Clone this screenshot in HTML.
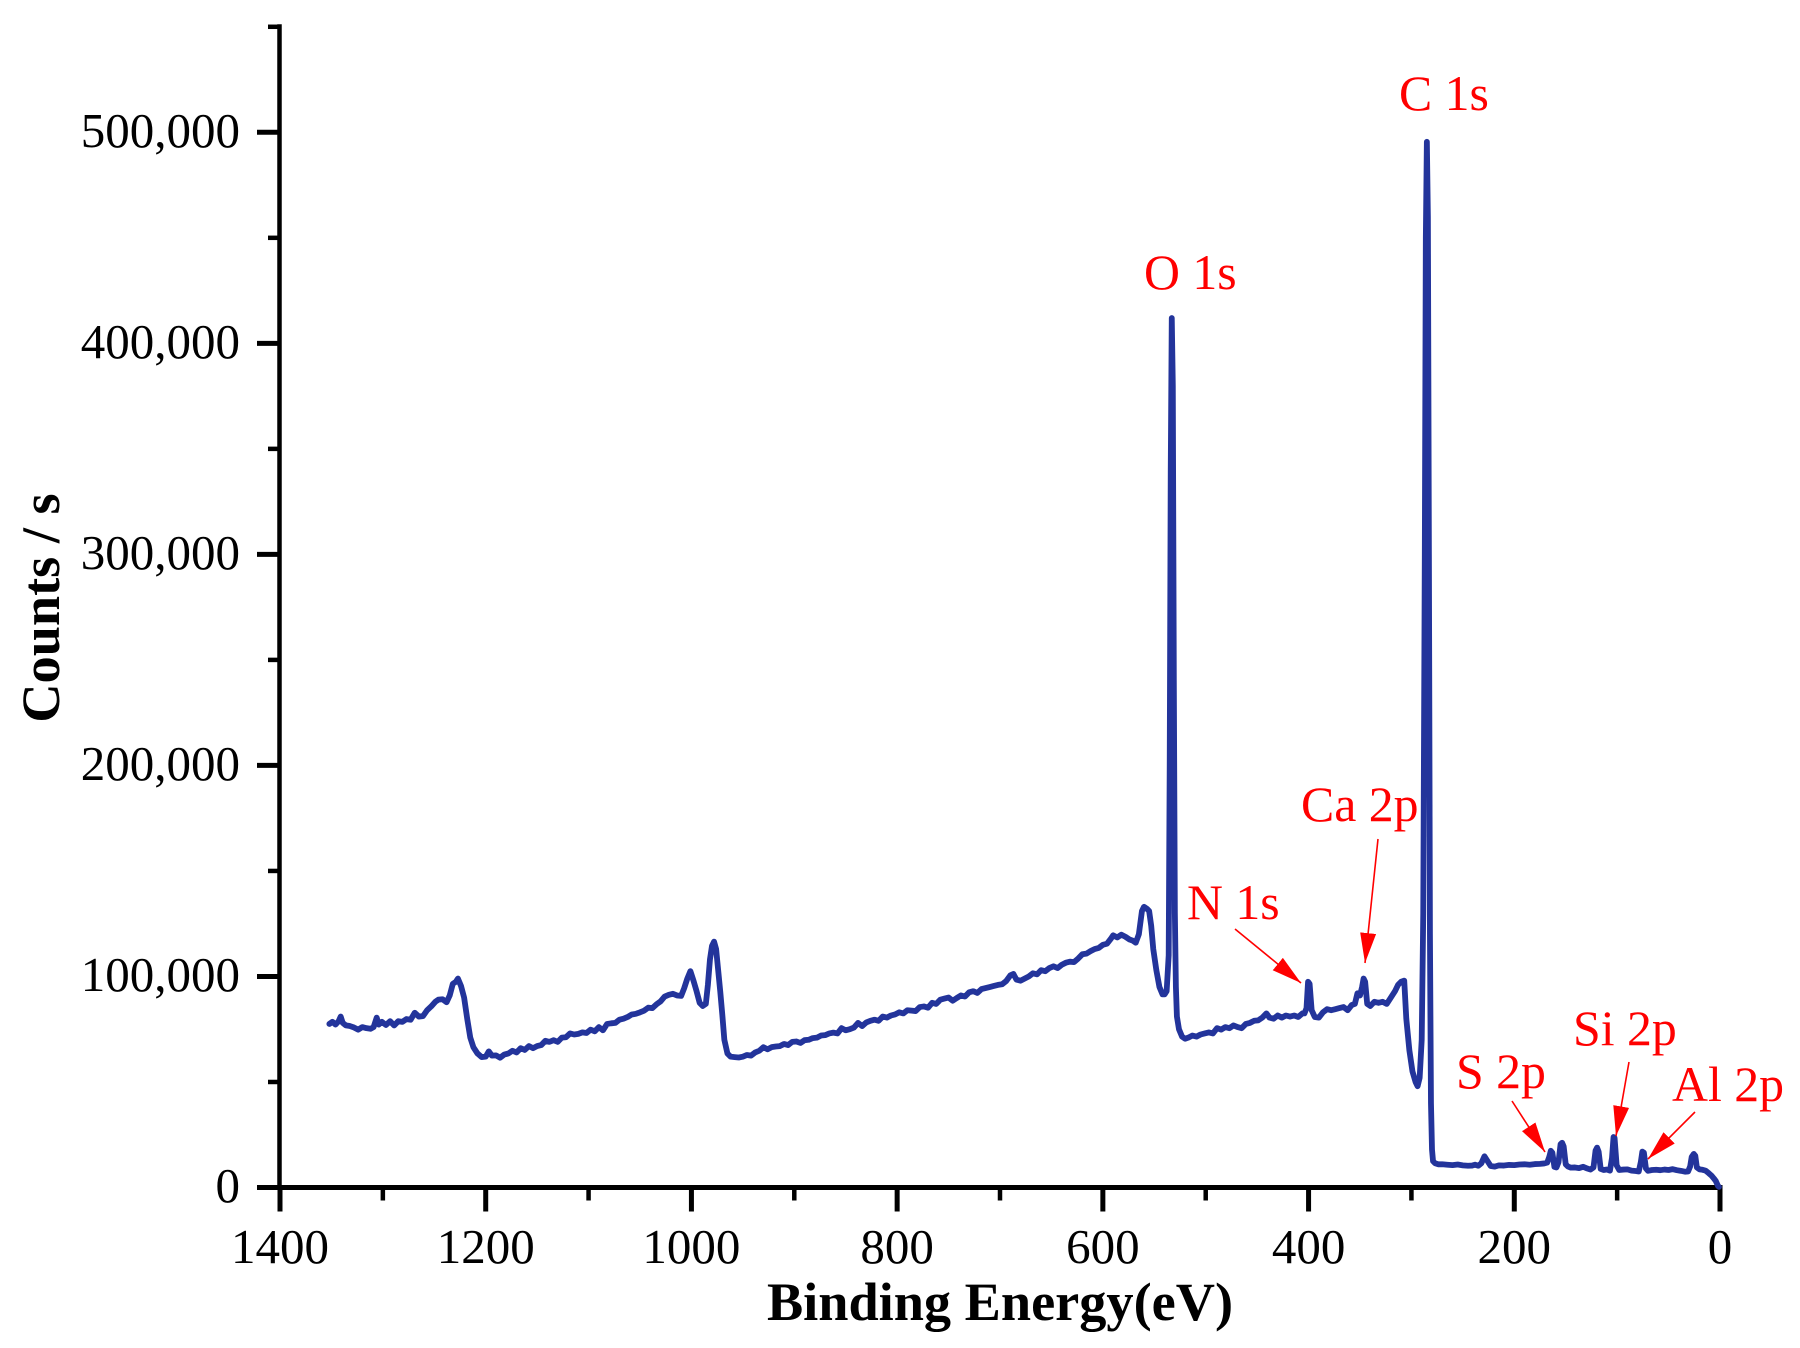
<!DOCTYPE html>
<html lang="en">
<head>
<meta charset="utf-8">
<title>XPS survey spectrum</title>
<style>
  html, body { margin: 0; padding: 0; background: #ffffff; }
  body { width: 1800px; height: 1348px; overflow: hidden; }
  svg { display: block; }
  text { font-family: "Liberation Serif", "DejaVu Serif", serif; }
  .tick-label { font-size: 49px; fill: #000000; }
  .axis-title { font-size: 54.3px; font-weight: bold; fill: #000000; }
  .peak-label { font-size: 49.8px; fill: #ff0000; }
  .arrow { stroke: #ff0000; stroke-width: 1.6; fill: none; }
</style>
</head>
<body>
<svg id="chart" xmlns="http://www.w3.org/2000/svg" width="1800" height="1348" viewBox="0 0 1800 1348">
  <defs>
    <marker id="arrow-head" markerUnits="userSpaceOnUse" markerWidth="32" markerHeight="18" refX="30" refY="8" orient="auto">
      <polygon points="0,0 30,8 0,16" fill="#ff0000"></polygon>
    </marker>
  </defs>
  <rect x="0" y="0" width="1800" height="1348" fill="#ffffff"></rect>
  <g id="axes"></g>
  <path id="spectrum" fill="none" stroke="#23349b" stroke-width="5.8" stroke-linejoin="round" stroke-linecap="round"></path>

  <text class="axis-title" x="1000" y="1320" text-anchor="middle">Binding Energy(eV)</text>
  <text class="axis-title" transform="translate(59,608) rotate(-90)" text-anchor="middle">Counts / s</text>

  <text class="peak-label" x="1399" y="110" xml:space="preserve">C 1s</text>
  <text class="peak-label" x="1144" y="289" xml:space="preserve">O 1s</text>
  <text class="peak-label" x="1187" y="919" xml:space="preserve">N 1s</text>
  <text class="peak-label" x="1301" y="821" xml:space="preserve">Ca 2p</text>
  <text class="peak-label" x="1456" y="1088" xml:space="preserve">S 2p</text>
  <text class="peak-label" x="1573" y="1045" xml:space="preserve">Si 2p</text>
  <text class="peak-label" x="1672" y="1101" xml:space="preserve">Al 2p</text>

  <line class="arrow" x1="1235" y1="929" x2="1301" y2="983" marker-end="url(#arrow-head)"></line>
  <line class="arrow" x1="1378" y1="839" x2="1365" y2="963" marker-end="url(#arrow-head)"></line>
  <line class="arrow" x1="1512" y1="1101" x2="1545" y2="1152" marker-end="url(#arrow-head)"></line>
  <line class="arrow" x1="1629" y1="1062" x2="1616" y2="1136" marker-end="url(#arrow-head)"></line>
  <line class="arrow" x1="1695" y1="1112" x2="1648" y2="1159" marker-end="url(#arrow-head)"></line>
</svg>

<script>
const xMajorLabels = ["1400", "1200", "1000", "800", "600", "400", "200", "0"];
const xMajorValues = [1400, 1200, 1000, 800, 600, 400, 200, 0];
const xMinorValues = [1300, 1100, 900, 700, 500, 300, 100];
const yMajorLabels = ["0", "100,000", "200,000", "300,000", "400,000", "500,000"];
const yMajorValues = [0, 100000, 200000, 300000, 400000, 500000];
const yMinorValues = [50000, 150000, 250000, 350000, 450000, 550000];

const bindingEnergy = [
  1352,1349,1346,1343,1341,1339,1336,1332,1328,1324,
  1320,1316,1312,1309,1306,1304,1301,1297,1293,1289,
  1285,1281,1277,1273,1269,1265,1261,1257,1253,1249,
  1246,1242,1238,1235,1232,1229,1227,1224,1221,1218,
  1215,1212,1208,1204,1200,1197,1194,1190,1186,1182,
  1178,1174,1170,1166,1162,1158,1154,1150,1146,1142,
  1138,1134,1130,1126,1122,1118,1114,1110,1106,1102,
  1098,1094,1090,1086,1082,1078,1074,1070,1066,1062,
  1058,1054,1050,1046,1042,1038,1034,1030,1026,1022,
  1018,1014,1010,1007,1004,1001,998,995,992,989,
  986,984,982,980,978,976,974,972,970,968,
  965,962,958,954,950,946,942,938,934,930,
  926,922,918,914,910,906,902,898,894,890,
  886,882,878,874,870,866,862,858,854,850,
  846,842,838,834,830,826,822,818,814,810,
  806,802,798,794,790,786,782,778,774,770,
  766,762,758,754,750,746,742,738,734,730,
  726,722,718,714,710,706,702,698,694,690,
  687,684,680,676,672,668,664,660,656,652,
  648,644,640,636,632,628,624,620,616,612,
  608,604,600,596,592,590,586,582,578,574,
  571,568,565,562,560,557,555,553,551,548,
  545,542,540,538,536,535,534,533,532,531,
  530,529,528,526,523,520,517,513,509,505,
  501,497,493,489,485,481,477,473,469,465,
  461,457,453,449,445,441,438,434,430,426,
  422,418,414,410,406,404,402,400.5,399,397,
  394,390,386,382,378,374,370,366,362,358,
  355,352.5,350,348,346.5,345,343,340,336,332,
  328,324,320,316,313,310,307,305,302,299,
  296,294,292,290,288.5,287,286,285,284,283,
  282,281,280,279,277,274,270,265,260,255,
  250,245,241,238,235,232,229,226,223,219,
  215,210,205,200,195,190,185,180,175,171,
  168,166,164.5,163,161,159,157,155,153.5,152,
  150,148,145,141,137,133,129,126,123,121,
  119.5,118,116,113,110,107,105,103.5,102.5,100.5,
  98,94,90,86,82,79,77,75.5,74,72,
  70,66,62,58,54,50,46,42,38,34,
  31,29,27.5,25.5,24,22.5,20,17,14,11,
  8,6,4,2,1
];

const countsPerSecond = [
  77500,78500,77200,78800,81000,78000,76800,76500,75800,74800,
  76000,75500,75200,76000,80500,77200,78500,77000,78800,76800,
  78800,78500,79800,79500,82800,81000,81200,84000,85800,88000,
  89000,89200,87800,91000,96500,97500,99000,95500,90000,80000,
  71000,66500,63500,61800,62000,64500,62500,62600,61500,63000,
  63500,64800,64000,66000,65200,67000,66000,67000,67500,69500,
  69000,69800,69000,71000,71200,73000,72500,72800,73500,73200,
  74800,74000,76000,74500,77500,77800,78000,79500,80000,80800,
  82000,82300,83000,83800,85200,85000,86800,88200,90500,91300,
  91800,91000,90800,94500,99000,102500,98000,93000,87500,86000,
  87000,96000,108000,114500,116500,113000,103000,93000,82000,70000,
  63500,62000,61800,61600,62000,62800,62500,64000,64800,66500,
  65500,66500,66800,67000,68000,67500,69000,69200,68500,69800,
  70000,70800,71000,72000,72200,73000,73400,73000,75500,74500,
  75000,75800,78000,76500,78200,79000,79500,79000,81000,80500,
  81500,82000,83000,82500,84000,83800,83600,85500,85800,85200,
  87500,87000,89000,89500,90000,88500,89800,91000,90500,92500,
  93000,92200,94000,94500,95000,95500,96000,96300,97800,100500,
  101200,98500,98000,99000,100000,101500,101000,103000,102500,104000,
  104800,104000,105500,106500,107000,106800,108500,110500,110800,112000,
  113000,113500,115000,115500,118000,119500,118500,119800,118800,117500,
  117000,116000,120000,131000,133000,132000,131000,124000,113000,103000,
  95000,91500,91500,93000,110000,200000,340000,412000,380000,240000,
  130000,95000,81000,75000,71500,70500,71000,72000,71500,72500,
  73000,73500,73000,75500,74800,76000,75500,76800,76000,75500,
  77500,78000,79000,79200,80500,82500,80500,80000,81500,80500,
  81500,81000,81500,80800,82500,82500,85000,97500,96500,84000,
  80800,80500,83000,84500,84000,84500,85000,85500,84000,86500,
  87000,92000,91000,95000,99000,97500,87000,86000,88000,87500,
  88000,87000,90000,93000,96000,97500,98000,80000,65000,55000,
  50000,48000,52000,70000,130000,300000,450000,495500,460000,300000,
  120000,40000,18000,12500,11500,11000,11000,10800,10600,10900,
  10500,10300,10400,10800,10300,11500,14800,12500,10200,9900,
  10500,10400,10700,10600,10900,11000,10800,11100,11200,11400,
  11800,14500,17400,16500,9800,9500,12000,20500,21200,19500,
  11000,10000,9400,9500,9200,9800,9000,8500,9500,17500,
  18900,17000,8800,8300,8500,8000,14000,23900,23500,10500,
  8300,8500,8600,8000,7800,7600,12000,17000,16500,9000,
  7900,8300,8400,8200,8500,8300,8700,8200,7900,7500,
  7600,10000,14500,15900,15000,9500,8600,8400,8000,6800,
  5500,4300,3000,800,300
];

const SVG_NS = 'http://www.w3.org/2000/svg';

function xScale(energy) {
  return 1720 - (energy / 1400) * 1440;
}

function yScale(value) {
  return 1187.5 - (value / 500000) * 1055.2;
}

const axes = document.getElementById('axes');

function addLine(parent, x1, y1, x2, y2, width) {
  const line = document.createElementNS(SVG_NS, 'line');
  line.setAttribute('x1', x1);
  line.setAttribute('y1', y1);
  line.setAttribute('x2', x2);
  line.setAttribute('y2', y2);
  line.setAttribute('stroke', '#000000');
  line.setAttribute('stroke-width', width);
  parent.appendChild(line);
  return line;
}

function addLabel(parent, x, y, anchor, content) {
  const label = document.createElementNS(SVG_NS, 'text');
  label.setAttribute('class', 'tick-label');
  label.setAttribute('x', x);
  label.setAttribute('y', y);
  label.setAttribute('text-anchor', anchor);
  label.textContent = content;
  parent.appendChild(label);
  return label;
}

const ySpine = addLine(axes, xScale(1400) - 0.5, yScale(550000) - 2.5, xScale(1400) - 0.5, yScale(0) + 2, 4.5);



const xSpine = addLine(axes, xScale(1400) - 23, yScale(0), xScale(0) + 2.5, yScale(0), 5);



xMajorValues.forEach(function (value, i) {
  const tick = addLine(axes, xScale(value), yScale(0), xScale(value), yScale(0) + 24, 5);
  
  
  const label = addLabel(axes, xScale(value), 1263, 'middle', xMajorLabels[i]);
  
  
});

xMinorValues.forEach(function (value) {
  const tick = addLine(axes, xScale(value), yScale(0), xScale(value), yScale(0) + 13, 4.5);
  
  
});

yMajorValues.forEach(function (value, i) {
  const tick = addLine(axes, xScale(1400) - 23, yScale(value), xScale(1400), yScale(value), 5);
  
  
  const label = addLabel(axes, 240, yScale(value) + 14.5, 'end', yMajorLabels[i]);
  
  
});

yMinorValues.forEach(function (value) {
  const tick = addLine(axes, xScale(1400) - 12, yScale(value), xScale(1400), yScale(value), 4.5);
  
  
});

const pathParts = bindingEnergy.map(function (energy, i) {
  return (i === 0 ? 'M' : 'L') + xScale(energy).toFixed(2) + ',' + yScale(countsPerSecond[i]).toFixed(2);
});
document.getElementById('spectrum').setAttribute('d', pathParts.join(' '));
</script>
</body>
</html>
